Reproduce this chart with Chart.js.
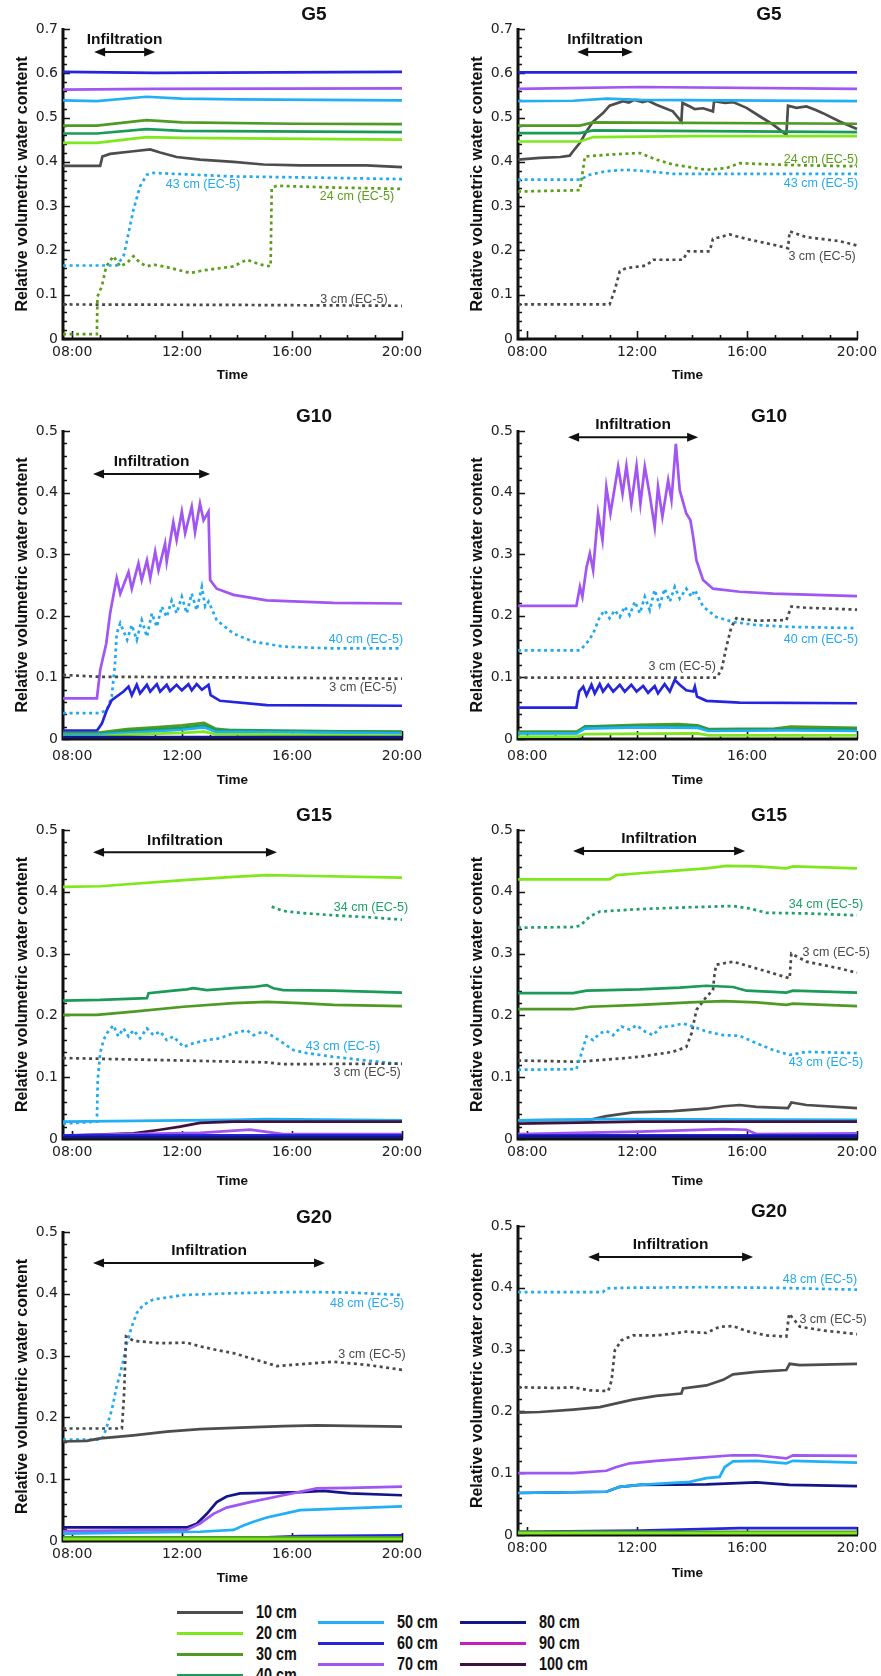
<!DOCTYPE html>
<html>
<head>
<meta charset="utf-8">
<title>Relative volumetric water content, G5–G20</title>
<script src="https://cdn.jsdelivr.net/npm/chart.js@4.4.1/dist/chart.umd.min.js"></script>
<style>
  body { margin: 0; width: 881px; height: 1676px; overflow: hidden; background: #fff; position: relative; }
  canvas { position: absolute; }
  .lg-line { position: absolute; height: 3px; width: 66px; }
  .lg-text { position: absolute; font: bold 18px "Liberation Sans", Arial, sans-serif; line-height: 18px;
             color: #111; transform: scaleX(0.8); transform-origin: left center; white-space: nowrap; }
</style>
</head>
<body>
<script>
// ---- axes ----
const xTickHours = [8, 12, 16, 20];
const xTickLabels = ['08:00', '12:00', '16:00', '20:00'];
const yTicks = [0, 0.1, 0.2, 0.3, 0.4, 0.5, 0.6, 0.7];
const yTitle = 'Relative volumetric water content';

// ---- sensor depths ----
const depthKeys = ['d10', 'd20', 'd30', 'd40', 'd50', 'd60', 'd70', 'd80', 'd90', 'd100'];
const depthLabels = ['10 cm', '20 cm', '30 cm', '40 cm', '50 cm', '60 cm', '70 cm', '80 cm', '90 cm', '100 cm'];
const ecKeys = ['ec3', 'ec24', 'ec34', 'ec40', 'ec43', 'ec48'];
const ecLabels = ['3 cm (EC-5)', '24 cm (EC-5)', '34 cm (EC-5)', '40 cm (EC-5)', '43 cm (EC-5)', '48 cm (EC-5)'];

// ---- G5, first run ----
const g5aTitle = 'G5';
const g5aInfil = [8.8, 11.02, 0.648];
const g5a_d60 = [[7.67,0.603],[11,0.601],[20,0.603]];
const g5a_d70 = [[7.67,0.563],[11,0.565],[20,0.566]];
const g5a_d50 = [[7.67,0.539],[8.9,0.537],[10.7,0.547],[12,0.543],[14,0.541],[20,0.539]];
const g5a_d30 = [[7.67,0.482],[8.9,0.482],[10.7,0.494],[12,0.489],[16,0.486],[20,0.485]];
const g5a_d40 = [[7.67,0.464],[8.9,0.464],[10.7,0.474],[12,0.470],[20,0.467]];
const g5a_d20 = [[7.67,0.443],[8.9,0.443],[10.7,0.456],[12,0.454],[20,0.450]];
const g5a_d10 = [[7.67,0.391],[9.02,0.391],[9.1,0.412],[9.38,0.418],[10.23,0.424],[10.84,0.428],[11.2,0.421],[11.8,0.411],[12.65,0.405],[13.87,0.400],[14.96,0.394],[16.3,0.392],[18.7,0.392],[20,0.388]];
const g5a_ec43 = [[7.67,0.166],[9.62,0.166],[9.87,0.187],[10,0.224],[10.23,0.292],[10.47,0.345],[10.72,0.371],[10.96,0.375],[13.87,0.367],[16.3,0.365],[20,0.361]];
const g5a_ec24 = [[7.67,0.011],[8.9,0.011],[8.92,0.096],[9.08,0.119],[9.24,0.164],[9.5,0.187],[9.75,0.164],[10,0.172],[10.23,0.187],[10.47,0.172],[10.72,0.164],[10.96,0.168],[11.32,0.164],[11.8,0.157],[12.29,0.149],[12.78,0.155],[13.38,0.160],[13.87,0.164],[14.35,0.179],[14.84,0.168],[15.22,0.164],[15.26,0.341],[15.44,0.346],[17.5,0.342],[20,0.339]];
const g5a_ec3 = [[7.67,0.078],[13.87,0.077],[20,0.075]];
const g5aNotes = [['ec43',12.76,0.348],['ec24',18.36,0.321],['ec3',18.25,0.09]];

// ---- G5, second run ----
const g5bTitle = 'G5';
const g5bInfil = [9.82, 11.85, 0.648];
const g5b_d60 = [[7.67,0.602],[20,0.602]];
const g5b_d70 = [[7.67,0.565],[12.1,0.569],[20,0.565]];
const g5b_d50 = [[7.67,0.537],[9.67,0.538],[10.9,0.543],[12.1,0.540],[20,0.537]];
const g5b_d30 = [[7.67,0.482],[9.92,0.482],[10.4,0.489],[20,0.486]];
const g5b_d40 = [[7.67,0.465],[9.92,0.465],[10.4,0.471],[20,0.467]];
const g5b_d20 = [[7.67,0.446],[9.92,0.446],[10.4,0.456],[14,0.458],[20,0.458]];
const g5b_d10 = [[7.67,0.405],[8.46,0.409],[9.21,0.411],[9.55,0.414],[9.67,0.424],[9.92,0.443],[10.16,0.469],[10.4,0.491],[10.76,0.51],[11.0,0.527],[11.49,0.537],[11.7,0.534],[11.9,0.540],[12.2,0.535],[12.4,0.538],[12.7,0.529],[13.3,0.514],[13.61,0.491],[13.65,0.533],[13.92,0.525],[14.1,0.519],[14.4,0.521],[14.76,0.514],[14.8,0.537],[15.2,0.533],[15.49,0.535],[15.98,0.522],[16.46,0.503],[16.95,0.484],[17.43,0.461],[17.49,0.527],[17.8,0.522],[18.16,0.525],[18.5,0.517],[18.76,0.51],[19.37,0.491],[20,0.474]];
const g5b_ec24 = [[7.67,0.333],[9.92,0.336],[10.1,0.412],[10.88,0.416],[12.1,0.42],[12.7,0.405],[13.3,0.394],[14.52,0.382],[15.25,0.386],[15.73,0.397],[16.95,0.394],[18.16,0.392],[20,0.39]];
const g5b_ec43 = [[7.67,0.36],[9.92,0.36],[10.28,0.371],[10.88,0.379],[11.6,0.382],[12.34,0.379],[13.3,0.373],[20,0.373]];
const g5b_ec3 = [[7.67,0.078],[11.0,0.078],[11.19,0.111],[11.37,0.153],[11.6,0.16],[12.34,0.166],[12.58,0.179],[13.67,0.179],[13.85,0.198],[14.64,0.198],[14.76,0.226],[15.37,0.236],[15.98,0.226],[16.95,0.213],[17.49,0.205],[17.55,0.243],[18.16,0.23],[19.37,0.221],[20,0.211]];
const g5bNotes = [['ec24',18.69,0.406],['ec43',18.69,0.352],['ec3',18.73,0.187]];

// ---- G10, first run ----
const g10aTitle = 'G10';
const g10aInfil = [8.76, 13.02, 0.43];
const g10a_d80 = [[7.67,0.003],[20,0.003]];
const g10a_d20 = [[7.67,0.004],[8.9,0.004],[10,0.007],[12,0.010],[12.8,0.012],[13.2,0.008],[20,0.005]];
const g10a_d50 = [[7.67,0.007],[8.9,0.007],[10,0.010],[12,0.015],[12.8,0.019],[13.2,0.012],[20,0.009]];
const g10a_d40 = [[7.67,0.008],[8.9,0.008],[10,0.013],[12,0.018],[12.8,0.022],[13.2,0.015],[20,0.011]];
const g10a_d30 = [[7.67,0.010],[8.9,0.010],[10,0.016],[11,0.019],[12,0.022],[12.8,0.026],[13.2,0.017],[14,0.013],[20,0.012]];
const g10a_d60 = [[7.67,0.0135],[8.9,0.0135],[9.08,0.025],[9.26,0.047],[9.44,0.063],[9.62,0.069],[9.87,0.077],[10.05,0.085],[10.17,0.071],[10.35,0.088],[10.47,0.074],[10.72,0.088],[10.84,0.077],[11.08,0.089],[11.2,0.077],[11.44,0.088],[11.56,0.078],[11.8,0.088],[11.99,0.079],[12.23,0.089],[12.35,0.079],[12.53,0.089],[12.72,0.08],[12.96,0.088],[13.04,0.071],[13.38,0.062],[15.08,0.055],[20,0.054]];
const g10a_d70 = [[7.67,0.066],[8.9,0.066],[9.02,0.112],[9.24,0.155],[9.38,0.204],[9.56,0.247],[9.62,0.261],[9.75,0.236],[10.05,0.271],[10.17,0.244],[10.41,0.285],[10.53,0.258],[10.72,0.29],[10.84,0.261],[11.02,0.304],[11.14,0.274],[11.38,0.317],[11.44,0.288],[11.68,0.352],[11.8,0.323],[11.99,0.369],[12.11,0.334],[12.35,0.377],[12.47,0.336],[12.65,0.382],[12.78,0.355],[12.96,0.369],[13.02,0.258],[13.26,0.244],[13.87,0.234],[15.08,0.225],[17.5,0.221],[20,0.22]];
const g10a_ec40 = [[7.67,0.042],[9.02,0.042],[9.26,0.047],[9.44,0.069],[9.56,0.123],[9.62,0.171],[9.75,0.188],[10,0.161],[10.17,0.185],[10.35,0.161],[10.53,0.193],[10.72,0.166],[10.9,0.204],[11.08,0.182],[11.26,0.215],[11.44,0.198],[11.62,0.225],[11.8,0.204],[11.99,0.231],[12.17,0.204],[12.35,0.236],[12.53,0.209],[12.72,0.247],[12.84,0.215],[12.96,0.223],[13.26,0.193],[13.87,0.171],[14.6,0.158],[15.68,0.15],[17.5,0.147],[20,0.147]];
const g10a_ec3 = [[7.67,0.104],[9.02,0.101],[13.87,0.100],[20,0.098]];
const g10aNotes = [['ec40',18.69,0.162],['ec3',18.58,0.083]];

// ---- G10, second run ----
const g10bTitle = 'G10';
const g10bInfil = [9.49, 14.22, 0.49];
const g10b_d20 = [[7.67,0.004],[9.8,0.004],[10.1,0.008],[14.2,0.009],[14.6,0.006],[20,0.006]];
const g10b_d50 = [[7.67,0.009],[9.8,0.009],[10.1,0.017],[12,0.019],[14.2,0.018],[14.6,0.013],[17.5,0.014],[20,0.013]];
const g10b_d40 = [[7.67,0.010],[9.8,0.010],[10.1,0.020],[14.2,0.021],[14.6,0.015],[20,0.016]];
const g10b_d30 = [[7.67,0.012],[9.8,0.012],[10.1,0.02],[12,0.023],[13.5,0.024],[14.2,0.022],[14.6,0.016],[17,0.017],[17.6,0.02],[20,0.018]];
const g10b_d60 = [[7.67,0.051],[9.79,0.051],[9.89,0.077],[10.04,0.085],[10.16,0.071],[10.34,0.088],[10.46,0.074],[10.64,0.089],[10.76,0.077],[10.95,0.088],[11.13,0.077],[11.37,0.088],[11.55,0.077],[11.79,0.088],[11.98,0.077],[12.22,0.086],[12.4,0.075],[12.64,0.086],[12.76,0.074],[13.0,0.089],[13.19,0.077],[13.37,0.096],[13.55,0.088],[13.79,0.079],[14.04,0.077],[14.1,0.085],[14.18,0.069],[14.52,0.062],[15.73,0.059],[20,0.058]];
const g10b_d70 = [[7.67,0.216],[9.79,0.216],[9.92,0.247],[10.01,0.231],[10.16,0.279],[10.28,0.301],[10.4,0.274],[10.58,0.366],[10.74,0.323],[10.88,0.409],[11.03,0.366],[11.31,0.442],[11.47,0.398],[11.61,0.443],[11.79,0.382],[11.98,0.443],[12.12,0.382],[12.28,0.442],[12.46,0.396],[12.64,0.344],[12.76,0.409],[12.92,0.361],[13.13,0.42],[13.25,0.388],[13.41,0.479],[13.55,0.404],[13.79,0.366],[13.94,0.355],[14.04,0.328],[14.16,0.29],[14.4,0.258],[14.76,0.244],[15.73,0.239],[16.95,0.236],[20,0.232]];
const g10b_ec40 = [[7.67,0.144],[9.92,0.144],[10.16,0.155],[10.4,0.171],[10.64,0.198],[10.82,0.209],[11.0,0.196],[11.19,0.209],[11.37,0.198],[11.55,0.215],[11.73,0.201],[11.92,0.223],[12.1,0.204],[12.28,0.231],[12.46,0.209],[12.64,0.242],[12.82,0.217],[13.0,0.244],[13.19,0.223],[13.37,0.247],[13.55,0.228],[13.79,0.244],[13.98,0.231],[14.1,0.242],[14.4,0.215],[14.88,0.198],[15.49,0.19],[16.34,0.185],[17.55,0.182],[20,0.18]];
const g10b_ec3 = [[7.67,0.0995],[14.88,0.0995],[15.07,0.112],[15.25,0.15],[15.43,0.182],[15.61,0.196],[16.34,0.192],[17.43,0.193],[17.61,0.215],[18.16,0.213],[20,0.21]];
const g10bNotes = [['ec40',18.69,0.162],['ec3',13.64,0.117]];

// ---- G15, first run ----
const g15aTitle = 'G15';
const g15aInfil = [8.76, 15.45, 0.464];
const g15a_d80 = [[7.67,0.003],[20,0.003]];
const g15a_d60 = [[7.67,0.006],[20,0.006]];
const g15a_d70 = [[7.67,0.006],[12.65,0.010],[14.47,0.015],[15.68,0.008],[20,0.008]];
const g15a_d100 = [[7.67,0.005],[10.23,0.009],[11.2,0.015],[11.93,0.020],[12.65,0.026],[13.87,0.028],[20,0.028]];
const g15a_d50 = [[7.67,0.028],[13.87,0.031],[15.08,0.032],[20,0.030]];
const g15a_d30 = [[7.67,0.201],[8.9,0.201],[10.23,0.206],[12.05,0.214],[13.87,0.220],[15.08,0.222],[16.29,0.220],[17.5,0.217],[20,0.215]];
const g15a_d40 = [[7.67,0.224],[9.02,0.225],[10.72,0.228],[10.78,0.236],[11.68,0.240],[12.17,0.242],[12.41,0.244],[12.9,0.241],[13.87,0.244],[14.6,0.246],[15.08,0.249],[15.32,0.244],[15.68,0.241],[17.5,0.240],[20,0.237]];
const g15a_d20 = [[7.67,0.408],[9.02,0.409],[12.05,0.419],[13.87,0.424],[15.08,0.427],[16.29,0.426],[20,0.423]];
const g15a_ec3 = [[7.67,0.131],[12.05,0.127],[15.08,0.124],[15.68,0.121],[20,0.122]];
const g15a_ec43 = [[7.67,0.025],[8.9,0.028],[8.93,0.095],[9.02,0.139],[9.14,0.16],[9.26,0.171],[9.5,0.184],[9.68,0.166],[9.87,0.179],[10.05,0.166],[10.23,0.176],[10.47,0.163],[10.72,0.179],[10.96,0.168],[11.2,0.174],[11.44,0.16],[11.68,0.166],[12.05,0.149],[12.41,0.155],[12.9,0.16],[13.38,0.163],[13.87,0.171],[14.35,0.176],[14.6,0.168],[14.96,0.174],[15.32,0.166],[15.68,0.155],[16.05,0.144],[16.53,0.139],[17.5,0.133],[18.72,0.127],[20,0.121]];
const g15a_ec34 = [[15.26,0.376],[15.68,0.369],[16.29,0.366],[17.5,0.362],[18.72,0.359],[20,0.355]];
const g15aNotes = [['ec34',18.87,0.374],['ec43',17.85,0.149],['ec3',18.73,0.107]];

// ---- G15, second run ----
const g15bTitle = 'G15';
const g15bInfil = [9.67, 15.93, 0.466];
const g15b_d80 = [[7.67,0.004],[20,0.004]];
const g15b_d60 = [[7.67,0.006],[20,0.006]];
const g15b_d70 = [[7.67,0.008],[12.1,0.012],[15.13,0.016],[15.98,0.015],[16.34,0.008],[20,0.009]];
const g15b_d100 = [[7.67,0.025],[12.1,0.028],[20,0.028]];
const g15b_d50 = [[7.67,0.030],[10.88,0.032],[20,0.031]];
const g15b_d10 = [[7.67,0.03],[10.28,0.031],[10.88,0.037],[11.85,0.043],[13.3,0.045],[14.52,0.049],[15.13,0.053],[15.73,0.055],[16.34,0.052],[17.49,0.05],[17.61,0.059],[18.16,0.055],[20,0.05]];
const g15b_d30 = [[7.67,0.21],[9.67,0.21],[10.28,0.214],[12.1,0.217],[13.92,0.221],[15.13,0.223],[16.34,0.221],[17.43,0.217],[17.67,0.219],[20,0.215]];
const g15b_d40 = [[7.67,0.236],[9.67,0.236],[10.16,0.24],[12.1,0.242],[13.55,0.245],[14.52,0.248],[15.49,0.246],[15.98,0.24],[16.95,0.238],[17.43,0.237],[17.67,0.24],[20,0.237]];
const g15b_d20 = [[7.67,0.42],[11.0,0.42],[11.25,0.427],[12.1,0.43],[13.3,0.434],[14.52,0.438],[15.25,0.442],[16.34,0.441],[17.43,0.438],[17.67,0.441],[20,0.438]];
const g15b_ec43 = [[7.67,0.112],[9.79,0.113],[9.98,0.139],[10.16,0.166],[10.4,0.16],[10.64,0.171],[10.88,0.175],[11.13,0.168],[11.43,0.182],[11.73,0.177],[11.98,0.184],[12.28,0.174],[12.58,0.168],[12.88,0.182],[13.19,0.182],[13.67,0.187],[14.04,0.182],[14.52,0.174],[15.13,0.168],[15.73,0.167],[16.34,0.155],[16.95,0.144],[17.55,0.136],[18.16,0.141],[20,0.139]];
const g15b_ec3 = [[7.67,0.127],[9.92,0.125],[12.1,0.133],[13.3,0.141],[13.79,0.149],[13.98,0.171],[14.16,0.209],[14.52,0.23],[14.76,0.241],[14.82,0.268],[14.88,0.282],[15.49,0.287],[16.34,0.276],[16.95,0.268],[17.55,0.26],[17.61,0.30],[18.16,0.287],[19.37,0.276],[20,0.269]];
const g15b_ec34 = [[7.67,0.342],[9.67,0.343],[9.92,0.345],[10.28,0.36],[10.64,0.368],[12.1,0.372],[13.92,0.375],[15.49,0.377],[16.1,0.373],[16.7,0.366],[18.16,0.365],[20,0.362]];
const g15bNotes = [['ec34',18.87,0.379],['ec3',19.24,0.301],['ec43',18.87,0.123]];

// ---- G20, first run ----
const g20aTitle = 'G20';
const g20aInfil = [8.76, 17.2, 0.45];
const g20a_d20 = [[7.67,0.003],[20,0.003]];
const g20a_d30 = [[7.67,0.006],[20,0.006]];
const g20a_d60 = [[7.67,0.004],[13.87,0.004],[16.29,0.008],[20,0.009]];
const g20a_d50 = [[7.67,0.012],[12.65,0.015],[13.87,0.018],[14.23,0.025],[14.6,0.031],[15.08,0.038],[15.68,0.044],[16.29,0.05],[17.5,0.052],[20,0.056]];
const g20a_d70 = [[7.67,0.016],[12.17,0.018],[12.65,0.028],[13.14,0.044],[13.62,0.054],[14.47,0.063],[15.68,0.074],[16.9,0.085],[18.11,0.086],[20,0.088]];
const g20a_d80 = [[7.67,0.022],[12.17,0.022],[12.53,0.028],[12.9,0.044],[13.26,0.063],[13.62,0.072],[14.11,0.077],[15.08,0.078],[16.29,0.079],[17.14,0.081],[18.11,0.077],[20,0.074]];
const g20a_d10 = [[7.67,0.161],[8.53,0.162],[9.02,0.166],[10.23,0.171],[11.44,0.177],[12.65,0.181],[13.87,0.183],[15.68,0.186],[16.9,0.187],[18.72,0.186],[20,0.185]];
const g20a_ec3 = [[7.67,0.182],[9.81,0.182],[9.89,0.239],[9.96,0.331],[10.23,0.324],[11.2,0.32],[12.17,0.321],[12.65,0.315],[13.26,0.309],[13.87,0.304],[14.47,0.296],[15.08,0.288],[15.44,0.283],[16.29,0.286],[17.5,0.29],[18.72,0.285],[20,0.277]];
const g20a_ec48 = [[7.67,0.164],[9.02,0.164],[9.14,0.169],[9.26,0.185],[9.44,0.212],[9.62,0.25],[9.81,0.282],[9.99,0.32],[10.17,0.347],[10.35,0.369],[10.59,0.382],[10.96,0.391],[12.05,0.398],[13.87,0.401],[16.29,0.403],[18.11,0.402],[20,0.398]];
const g20aNotes = [['ec48',18.73,0.385],['ec3',18.91,0.301]];

// ---- G20, second run ----
const g20bTitle = 'G20';
const g20bInfil = [10.22, 16.22, 0.45];
const g20b_d20 = [[7.67,0.003],[20,0.003]];
const g20b_d30 = [[7.67,0.005],[20,0.005]];
const g20b_d60 = [[7.67,0.005],[12.1,0.007],[15.73,0.011],[20,0.011]];
const g20b_d50 = [[7.67,0.068],[10.88,0.07],[11.37,0.078],[12.1,0.081],[13.92,0.086],[14.52,0.092],[15.0,0.094],[15.19,0.11],[15.49,0.119],[16.34,0.12],[17.43,0.116],[17.67,0.12],[20,0.117]];
const g20b_d80 = [[7.67,0.068],[10.88,0.07],[11.37,0.078],[12.1,0.081],[14.52,0.082],[16.34,0.085],[17.55,0.081],[20,0.079]];
const g20b_d70 = [[7.67,0.10],[9.67,0.10],[10.88,0.104],[11.25,0.11],[11.73,0.116],[12.7,0.12],[13.92,0.124],[15.49,0.129],[16.34,0.129],[17.43,0.124],[17.67,0.129],[20,0.128]];
const g20b_d10 = [[7.67,0.198],[8.46,0.199],[9.67,0.203],[10.64,0.207],[11.85,0.219],[12.7,0.225],[13.61,0.229],[13.67,0.237],[14.52,0.242],[15.13,0.251],[15.49,0.26],[16.34,0.264],[17.43,0.267],[17.55,0.277],[17.92,0.275],[20,0.277]];
const g20b_ec3 = [[7.67,0.239],[9.07,0.238],[9.67,0.239],[10.28,0.234],[10.95,0.233],[11.07,0.25],[11.19,0.299],[11.43,0.315],[11.85,0.323],[12.7,0.323],[13.3,0.326],[13.79,0.329],[14.52,0.327],[15.0,0.337],[15.49,0.338],[15.98,0.33],[16.7,0.323],[17.43,0.321],[17.53,0.358],[17.92,0.337],[18.76,0.331],[20,0.325]];
const g20b_ec48 = [[7.67,0.393],[10.76,0.393],[10.88,0.399],[11.49,0.40],[14.52,0.401],[16.95,0.40],[20,0.397]];
const g20bNotes = [['ec48',18.65,0.413],['ec3',19.13,0.348]];

// ---- styles ----
const depthColors = ['#4d4d4d', '#7ee81c', '#4e9a22', '#1b9a58', '#22b0f5', '#2525e0', '#a155f2', '#15158a', '#c21fc2', '#3d1240'];
const ecColors = { ec3: '#4a4a4a', ec24: '#5c9e18', ec34: '#1fa066', ec40: '#22aaf0', ec43: '#22aaf0', ec48: '#22aaf0' };
const FONT = '"Liberation Sans", Arial, sans-serif';
const X_MIN = 7 + 40 / 60;

function styleFor(key) {
  const i = depthKeys.indexOf(key);
  if (i >= 0) return { color: depthColors[i], dash: false };
  return { color: ecColors[key], dash: true };
}

const panels = [
  { title: g5aTitle, yMax: 0.7, infil: g5aInfil, notes: g5aNotes,
    series: { d60: g5a_d60, d70: g5a_d70, d50: g5a_d50, d30: g5a_d30, d40: g5a_d40, d20: g5a_d20, d10: g5a_d10, ec43: g5a_ec43, ec24: g5a_ec24, ec3: g5a_ec3 } },
  { title: g5bTitle, yMax: 0.7, infil: g5bInfil, notes: g5bNotes,
    series: { d60: g5b_d60, d70: g5b_d70, d50: g5b_d50, d30: g5b_d30, d40: g5b_d40, d20: g5b_d20, ec24: g5b_ec24, ec43: g5b_ec43, ec3: g5b_ec3, d10: g5b_d10 } },
  { title: g10aTitle, yMax: 0.5, infil: g10aInfil, notes: g10aNotes,
    series: { d80: g10a_d80, d20: g10a_d20, d50: g10a_d50, d40: g10a_d40, d30: g10a_d30, d60: g10a_d60, ec3: g10a_ec3, ec40: g10a_ec40, d70: g10a_d70 } },
  { title: g10bTitle, yMax: 0.5, infil: g10bInfil, notes: g10bNotes,
    series: { d20: g10b_d20, d50: g10b_d50, d40: g10b_d40, d30: g10b_d30, d60: g10b_d60, ec3: g10b_ec3, ec40: g10b_ec40, d70: g10b_d70 } },
  { title: g15aTitle, yMax: 0.5, infil: g15aInfil, notes: g15aNotes,
    series: { d80: g15a_d80, d60: g15a_d60, d70: g15a_d70, d100: g15a_d100, d50: g15a_d50, d30: g15a_d30, d40: g15a_d40, d20: g15a_d20, ec3: g15a_ec3, ec43: g15a_ec43, ec34: g15a_ec34 } },
  { title: g15bTitle, yMax: 0.5, infil: g15bInfil, notes: g15bNotes,
    series: { d80: g15b_d80, d60: g15b_d60, d70: g15b_d70, d100: g15b_d100, d50: g15b_d50, d10: g15b_d10, d30: g15b_d30, d40: g15b_d40, d20: g15b_d20, ec43: g15b_ec43, ec3: g15b_ec3, ec34: g15b_ec34 } },
  { title: g20aTitle, yMax: 0.5, infil: g20aInfil, notes: g20aNotes,
    series: { d20: g20a_d20, d30: g20a_d30, d60: g20a_d60, d50: g20a_d50, d70: g20a_d70, d80: g20a_d80, d10: g20a_d10, ec3: g20a_ec3, ec48: g20a_ec48 } },
  { title: g20bTitle, yMax: 0.5, infil: g20bInfil, notes: g20bNotes,
    series: { d20: g20b_d20, d30: g20b_d30, d60: g20b_d60, d50: g20b_d50, d80: g20b_d80, d70: g20b_d70, d10: g20b_d10, ec3: g20b_ec3, ec48: g20b_ec48 } }
];

// where each panel's canvas sits, and its plot height
const boxes = [
  { left: 0,   top: 0,    plotH: 310, tickPad: 5, timeOff: 36 },
  { left: 455, top: 0,    plotH: 310, tickPad: 5, timeOff: 36 },
  { left: 0,   top: 402,  plotH: 308, tickPad: 9, timeOff: 41 },
  { left: 455, top: 402,  plotH: 308, tickPad: 9, timeOff: 41 },
  { left: 0,   top: 801,  plotH: 309, tickPad: 5, timeOff: 42 },
  { left: 455, top: 801,  plotH: 309, tickPad: 5, timeOff: 42 },
  { left: 0,   top: 1203, plotH: 309, tickPad: 5, timeOff: 37 },
  { left: 455, top: 1197, plotH: 309, tickPad: 5, timeOff: 38 }
];

// axes with inward ticks, titles, infiltration arrow and sensor labels
function makeDecor(p, box) {
  return {
    id: 'panelDecor',
    beforeDatasetsDraw(chart) {
      const { ctx, chartArea: a, scales: { x, y } } = chart;
      ctx.save();
      ctx.strokeStyle = '#111';
      ctx.lineWidth = 1.6;
      ctx.beginPath();
      const nMinor = Math.round(p.yMax / 0.02);
      for (let i = 0; i <= nMinor; i++) {
        const py = Math.round(y.getPixelForValue(i * 0.02)) + 0.5;
        const len = i % 5 === 0 ? 7 : 4;
        ctx.moveTo(a.left, py);
        ctx.lineTo(a.left + len, py);
      }
      for (let h = 8; h <= 20; h++) {
        const px = Math.round(x.getPixelForValue(h)) + 0.5;
        const len = (h - 8) % 4 === 0 ? 8 : 4;
        ctx.moveTo(px, a.bottom);
        ctx.lineTo(px, a.bottom - len);
      }
      ctx.stroke();
      ctx.lineWidth = 3;
      ctx.beginPath();
      ctx.moveTo(a.left, a.top - 1);
      ctx.lineTo(a.left, a.bottom);
      ctx.lineTo(a.right + 1, a.bottom);
      ctx.stroke();
      ctx.restore();
    },
    afterDraw(chart) {
      const { ctx, chartArea: a, scales: { x, y } } = chart;
      ctx.save();
      ctx.fillStyle = '#111';
      ctx.strokeStyle = '#111';
      ctx.textAlign = 'center';
      ctx.textBaseline = 'middle';

      ctx.font = 'bold 19px ' + FONT;
      ctx.fillText(p.title, a.left + 251, a.top - 14);

      ctx.font = 'bold 13.5px ' + FONT;
      ctx.fillText('Time', (a.left + a.right) / 2, a.bottom + box.timeOff);

      ctx.save();
      ctx.translate(a.left - 40, (a.top + a.bottom) / 2);
      ctx.rotate(-Math.PI / 2);
      ctx.font = 'bold 16px ' + FONT;
      ctx.fillText(yTitle, 0, 0);
      ctx.restore();

      const [t0, t1, lv] = p.infil;
      const x0 = x.getPixelForValue(t0);
      const x1 = x.getPixelForValue(t1);
      const ay = y.getPixelForValue(lv);
      ctx.lineWidth = 2;
      ctx.beginPath();
      ctx.moveTo(x0 + 6, ay);
      ctx.lineTo(x1 - 6, ay);
      ctx.stroke();
      ctx.beginPath();
      ctx.moveTo(x0, ay); ctx.lineTo(x0 + 11, ay - 4.5); ctx.lineTo(x0 + 11, ay + 4.5); ctx.closePath();
      ctx.moveTo(x1, ay); ctx.lineTo(x1 - 11, ay - 4.5); ctx.lineTo(x1 - 11, ay + 4.5); ctx.closePath();
      ctx.fill();
      ctx.font = 'bold 15.5px ' + FONT;
      ctx.fillText('Infiltration', (x0 + x1) / 2, ay - 12);

      ctx.font = '12.5px ' + FONT;
      p.notes.forEach(([key, h, v]) => {
        ctx.fillStyle = ecColors[key];
        ctx.fillText(ecLabels[ecKeys.indexOf(key)], x.getPixelForValue(h), y.getPixelForValue(v));
      });
      ctx.restore();
    }
  };
}

function buildPanel(p, box) {
  const canvas = document.createElement('canvas');
  const h = 29 + box.plotH + 56;
  canvas.width = 440;
  canvas.height = h;
  canvas.style.left = box.left + 'px';
  canvas.style.top = box.top + 'px';
  canvas.style.width = '440px';
  canvas.style.height = h + 'px';
  document.body.appendChild(canvas);

  const datasets = Object.keys(p.series).map(key => {
    const st = styleFor(key);
    return {
      label: key,
      data: p.series[key],
      borderColor: st.color,
      borderWidth: st.dash ? 2.7 : 2.7,
      borderDash: st.dash ? [3, 3.5] : [],
      borderCapStyle: 'butt',
      pointRadius: 0,
      tension: 0,
      fill: false,
      clip: false
    };
  });

  const tickFont = { family: '"DejaVu Sans", sans-serif', size: 14 };
  new Chart(canvas, {
    type: 'line',
    data: { datasets },
    options: {
      responsive: false,
      animation: false,
      devicePixelRatio: 1,
      layout: { padding: { top: 29, right: 38, left: 0, bottom: 0 } },
      plugins: { legend: { display: false }, tooltip: { enabled: false } },
      scales: {
        x: {
          type: 'linear', min: X_MIN, max: 20,
          grid: { display: false, drawTicks: false },
          border: { display: false },
          afterBuildTicks: s => { s.ticks = xTickHours.map(v => ({ value: v })); },
          afterFit: s => { s.height = 56; },
          ticks: {
            padding: box.tickPad, font: tickFont, color: '#222', maxRotation: 0, autoSkip: false,
            callback: v => xTickLabels[xTickHours.indexOf(v)]
          }
        },
        y: {
          type: 'linear', min: 0, max: p.yMax,
          grid: { display: false, drawTicks: false },
          border: { display: false },
          afterBuildTicks: s => { s.ticks = yTicks.filter(v => v <= p.yMax + 1e-9).map(v => ({ value: v })); },
          afterFit: s => { s.width = 63; },
          ticks: {
            padding: 5, font: tickFont, color: '#222',
            callback: v => (v === 0 ? '0' : v.toFixed(1))
          }
        }
      }
    },
    plugins: [makeDecor(p, box)]
  });
}

panels.forEach((p, i) => buildPanel(p, boxes[i]));

// shared depth legend under the panels
const legendCols = [
  { x: 177, y: 1612, items: [0, 1, 2, 3] },
  { x: 318, y: 1622, items: [4, 5, 6] },
  { x: 460, y: 1622, items: [7, 8, 9] }
];
legendCols.forEach(col => {
  col.items.forEach((idx, r) => {
    const cy = col.y + r * 21;
    const line = document.createElement('div');
    line.className = 'lg-line';
    line.style.left = col.x + 'px';
    line.style.top = (cy - 1.5) + 'px';
    line.style.background = depthColors[idx];
    document.body.appendChild(line);
    const txt = document.createElement('div');
    txt.className = 'lg-text';
    txt.style.left = (col.x + 79) + 'px';
    txt.style.top = (cy - 9) + 'px';
    txt.textContent = depthLabels[idx];
    document.body.appendChild(txt);
  });
});
</script>
</body>
</html>
